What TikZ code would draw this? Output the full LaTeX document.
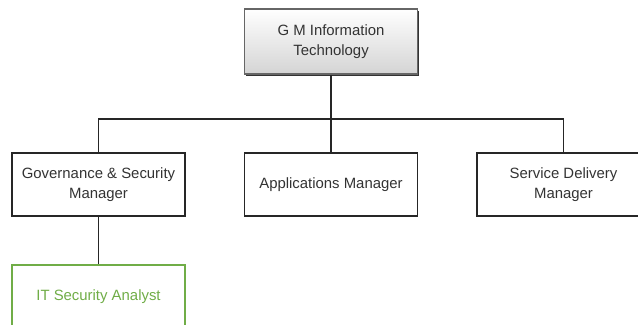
\documentclass[tikz,border=0pt]{standalone}
\usepackage{fontspec}
\setmainfont{Liberation Sans}
\usetikzlibrary{shapes,arrows,positioning,calc,shadows}
\definecolor{officegreen}{RGB}{112,173,71}
\definecolor{boxgray}{RGB}{212,212,212}

\begin{document}
\begin{tikzpicture}[x=0.025cm,y=-0.025cm,
  post/.style={draw=black!85,line width=0.75pt,fill=white,align=center,
    minimum width=4.325cm,minimum height=1.575cm,inner sep=2pt,
    font=\fontsize{10.6}{14}\selectfont,text=black!80},
  head/.style={post,top color=white,bottom color=boxgray,draw=black!60,
    minimum height=1.625cm,
    drop shadow={shadow xshift=1.2pt,shadow yshift=-1.2pt,fill=black!80,opacity=1}},
  staff/.style={post,draw=officegreen,text=officegreen},
  link/.style={line width=0.75pt,draw=black!85}]
  % Frame
  \useasboundingbox (0,0) rectangle (638,324);

  % Posts
  \node[head] (gm) at (331,41.5) {G M Information\\Technology};
  \node[post] (gov) at (98.5,184.5) {Governance \& Security\\Manager};
  \node[post] (app) at (331,184.5) {Applications Manager};
  \node[post] (sdm) at (563.5,184.5) {Service Delivery\\Manager};
  \node[staff] (itsa) at (98.5,296.5) {IT Security Analyst};

  % Reporting lines
  \coordinate (bus) at (331,119);
  \draw[link] (gm.south) -- (bus);
  \draw[link] (gov.north) |- (bus) -| (sdm.north);
  \draw[link] (bus) -- (app.north);
  \draw[link] (gov) -- (itsa);
\end{tikzpicture}
\end{document}
